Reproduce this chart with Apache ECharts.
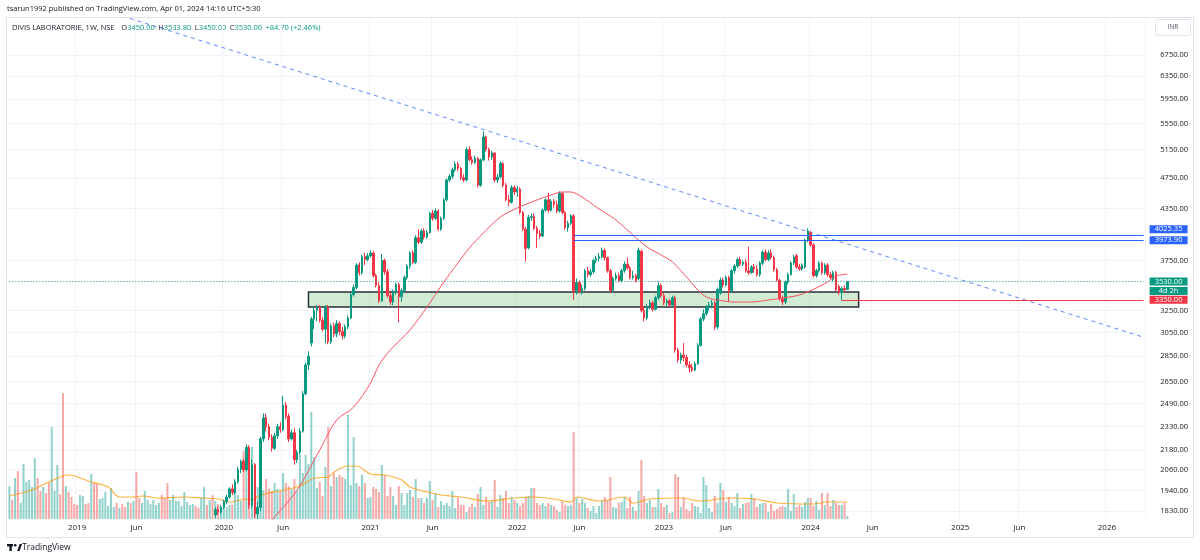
<!DOCTYPE html>
<html>
<head>
<meta charset="utf-8">
<title>DIVIS LABORATORIE, 1W, NSE</title>
<script src="https://cdn.jsdelivr.net/npm/echarts@6.0.0/dist/echarts.min.js"></script>
<style>
  html, body { margin: 0; padding: 0; background: #fff; }
  #chart { width: 1200px; height: 560px; }
</style>
</head>
<body>
<div id="chart"></div>
<script>
// weekly bars, first one is the week of 2018-07-23, axis runs on into 2026
var firstWeek = '2018-07-23'
var weekCount = 403
// candles before this week sit below the visible price range
var firstCandle = 73

// [open, close, low, high] from the week of 2019-12-16 to 2024-04-01
var ohlc = [
  [1811,1837,1795,1850],[1837,1825,1810,1855],[1825,1850,1815,1862],[1850,1880,1840,1890],[1880,1905,1865,1918],
  [1905,1950,1895,1960],[1950,1930,1915,1975],[1930,1990,1920,2005],[1990,2060,1980,2075],[2060,2110,2040,2120],
  [2110,2060,2045,2125],[2060,2195,2050,2215],[2195,1860,1840,2210],[1860,2090,1845,2120],[2090,1815,1795,2100],
  [1815,1850,1790,1880],[1850,2250,1830,2265],[2250,2390,2230,2420],[2390,2330,2300,2420],[2330,2260,2240,2350],
  [2260,2190,2170,2280],[2190,2270,2180,2290],[2270,2330,2250,2350],[2330,2310,2290,2360],[2310,2480,2300,2545],
  [2480,2400,2380,2500],[2400,2250,2230,2420],[2250,2290,2240,2310],[2290,2120,2090,2320],[2120,2165,2100,2180],
  [2165,2300,2150,2320],[2300,2560,2290,2580],[2560,2780,2550,2800],[2780,2850,2740,2890],[2960,3170,2930,3190],
  [3170,3250,3080,3280],[3250,3270,3150,3300],[3270,3160,3140,3300],[3160,3080,3060,3190],[3080,3280,2960,3300],
  [3280,2970,2950,3300],[2970,3110,2950,3130],[3110,3040,3010,3140],[3040,3130,3010,3160],[3130,3060,3030,3150],
  [3060,3020,2990,3100],[3020,3100,3000,3120],[3100,3180,3080,3200],[3180,3400,3170,3420],[3400,3470,3380,3500],
  [3470,3700,3450,3720],[3700,3620,3590,3730],[3620,3790,3600,3810],[3790,3760,3700,3830],[3760,3800,3740,3830],
  [3800,3830,3780,3860],[3830,3590,3570,3850],[3590,3490,3470,3610],[3490,3340,3320,3520],[3340,3750,3330,3820],
  [3750,3630,3600,3770],[3630,3390,3370,3660],[3390,3330,3300,3430],[3330,3420,3300,3450],[3420,3500,3400,3520],
  [3500,3380,3140,3520],[3380,3440,3330,3460],[3440,3570,3420,3590],[3570,3690,3550,3710],[3690,3830,3660,3850],
  [3830,3730,3710,3860],[3730,4000,3710,4030],[4000,3950,3930,4100],[3950,4080,3930,4100],[4080,4010,3980,4110],
  [4010,4060,3990,4090],[4060,4290,4050,4310],[4290,4230,4200,4330],[4230,4320,4210,4350],[4320,4100,4080,4340],
  [4100,4230,4080,4250],[4230,4460,4210,4480],[4460,4720,4440,4740],[4720,4770,4690,4800],[4770,4860,4740,4890],
  [4860,4940,4830,4980],[4940,4880,4840,4970],[4880,4750,4720,4900],[4750,4720,4690,4800],[4720,5150,4700,5180],
  [5150,5000,4980,5200],[5000,4960,4930,5050],[4960,5020,4940,5060],[5020,4650,4620,5040],[4650,5000,4630,5020],
  [5000,5340,4980,5425],[5340,5150,5120,5360],[5150,5040,4990,5180],[5040,5100,5000,5130],[5100,4720,4690,5110],
  [4720,4760,4680,4800],[4760,4950,4740,4980],[4950,4650,4620,4970],[4650,4460,4440,4680],[4460,4430,4380,4520],
  [4430,4620,4410,4650],[4620,4560,4520,4650],[4560,4600,4500,4640],[4600,4300,4280,4620],[4300,4100,4080,4320],
  [4100,3880,3740,4130],[3890,4240,3870,4270],[4240,4250,4200,4290],[4250,4110,4090,4290],[4110,4050,3885,4140],
  [4050,4020,3990,4090],[4020,4330,4010,4350],[4330,4460,4310,4480],[4460,4330,4300,4550],[4330,4440,4310,4470],
  [4440,4400,4360,4470],[4400,4320,4290,4450],[4320,4540,4300,4570],[4540,4300,4280,4560],[4300,4120,4090,4320],
  [4120,4170,4070,4200],[4170,4260,4150,4280],[4260,3440,3350,4280],[3440,3520,3400,3560],[3520,3430,3410,3540],
  [3430,3460,3400,3500],[3460,3640,3440,3660],[3640,3600,3570,3680],[3600,3630,3580,3660],[3630,3750,3610,3770],
  [3750,3770,3720,3800],[3770,3790,3740,3830],[3790,3860,3770,3890],[3860,3780,3750,3880],[3780,3640,3620,3790],
  [3640,3440,3420,3660],[3440,3560,3420,3580],[3560,3590,3540,3620],[3590,3540,3520,3620],[3540,3640,3520,3660],
  [3640,3710,3620,3740],[3710,3670,3650,3780],[3670,3570,3550,3690],[3570,3590,3550,3640],[3590,3540,3520,3610],
  [3560,3860,3540,3890],[3850,3250,3230,3870],[3250,3180,3150,3290],[3180,3280,3160,3310],[3280,3320,3260,3350],
  [3320,3260,3240,3340],[3260,3370,3250,3390],[3370,3490,3350,3530],[3490,3390,3370,3510],[3390,3320,3300,3420],
  [3320,3340,3290,3360],[3340,3300,3280,3360],[3300,3370,3280,3390],[3370,2900,2880,3390],[2900,2820,2800,2920],
  [2820,2860,2790,2880],[2860,2840,2810,2960],[2840,2780,2760,2860],[2780,2760,2720,2810],[2760,2740,2725,2790],
  [2740,2790,2730,2810],[2790,2940,2780,2960],[2940,3170,2930,3190],[3170,3220,3150,3260],[3220,3280,3200,3300],
  [3280,3300,3250,3330],[3300,3320,3270,3350],[3320,3100,3070,3340],[3100,3450,3080,3470],[3415,3545,3400,3570],
  [3545,3495,3470,3570],[3495,3570,3480,3590],[3570,3440,3330,3590],[3440,3640,3420,3660],[3640,3690,3610,3710],
  [3690,3760,3670,3780],[3760,3710,3690,3790],[3710,3730,3690,3750],[3730,3640,3620,3760],[3640,3620,3600,3900],
  [3620,3680,3610,3700],[3680,3660,3620,3710],[3660,3600,3580,3700],[3600,3720,3580,3740],[3720,3840,3700,3860],
  [3840,3760,3740,3870],[3760,3830,3740,3860],[3830,3780,3760,3870],[3780,3650,3630,3800],[3650,3545,3530,3670],
  [3545,3360,3340,3560],[3360,3330,3300,3390],[3330,3525,3310,3540],[3525,3600,3500,3620],[3600,3722,3590,3740],
  [3722,3787,3700,3810],[3800,3680,3660,3820],[3680,3660,3640,3710],[3660,3700,3640,3720],[3680,3975,3660,3990],
  [3975,4080,3950,4110],[4060,3920,3900,4080],[3920,3590,3570,3940],[3590,3640,3570,3660],[3640,3720,3620,3740],
  [3720,3620,3600,3740],[3620,3700,3600,3720],[3700,3600,3580,3720],[3600,3570,3550,3630],[3550,3620,3530,3640],
  [3620,3445,3430,3640],[3480,3420,3400,3500],[3420,3460,3350,3480],[3460,3445.3,3420,3490],[3450,3530,3450,3533.8]
]

// weekly volume, lakh shares, from the week of 2018-07-23
var volumes = [
  16.5,9.5,20.5,24,8,27.5,18.5,19.5,16,30.5, 20.5,14,16,13,18,46,14,27,12.5,63,
  16.5,13.5,11,7.5,7,12,11.5,7.5,8,22.5, 18,18,10,10.5,13.5,6.5,15.5,6,8,5.5,
  7.5,6,8.5,8,9,23.5,10.5,8,14,9.5, 7.5,9.5,7,8,12,10.5,18,9.5,12,9,
  9,6.5,13.5,8.5,7,7.5,6.5,5.5,11,16, 7,9.5,12,9,7.5,5.5,6,6,7,7,
  16,12,9,34,25,30.5,36,24.5,16,17, 14.5,20,15,14,18,15,14,23,18,16.5,
  15,20,14,32,23,32,27.5,53.5,31,15.5, 18.5,11.5,26,46,16.5,23,21,22,21,20,
  52,17,41,18,16.5,22,18,10.5,11,16, 15,13.5,27,22,11.5,16,11.5,7,16.5,13,
  7,13,14.5,11,20,10.5,10.5,8,10.5,19, 9.5,13,6,9,7,8,6.5,14,5.5,10.5,
  7,7,3.5,6,7.5,6,12.5,16,7,11, 8.5,9,19.5,6,12,10.5,14,8,11,9.5,
  8,6.5,8,11,11.5,15.5,15.5,8,7,8, 6.5,8,7,6.5,4.5,3.5,8.5,7,6.5,7,
  43.5,10.5,8,10,8,5.5,4,6.5,3,6.5, 9.5,11,9.5,21,6,5.5,8,8.5,11,5.5,
  11,6,4,14,29.5,11.5,8,9.5,6,6, 15,8,6,7,3,3.5,22.5,21,6,11,
  5,4,8,6.5,6,3,21,17,5.5,3.5, 11.5,8,18,14.5,8.5,11,8,6.5,13,5.5,
  7.5,8,8.5,12.5,10.5,6,7.5,8,8,3.5, 7.5,4,5,6,6.5,6,15,4,12.5,6,
  7,6,8.5,10.5,10.5,6.5,9,4.5,13,7, 13,6.5,9.5,8,7,7,8,1.5
]
// up / down weeks before the first visible candle
var earlyDir = 'ududuuuuuuddudduuuddudddduuddudduuuuuududdududduuuuuuuddduuuuuuuuudduudu'

// 50 week average of close [week, price]
var priceMA = [
  [92,1760],[94,1799],[102,1943],[110,2180],[116,2375],[122,2464],[128,2640],[131,2780],[135,2902],
  [142,3073],[148,3281],[154,3525],[159,3722],[163,3885],[168,4056],[174,4246],[180,4357],[186,4444],
  [192,4522],[196,4561],[199,4561],[203,4496],[208,4369],[215,4209],[221,4032],[226,3896],[231,3808],
  [235,3733],[240,3576],[244,3445],[247,3377],[251,3348],[257,3329],[263,3329],[269,3348],[274,3367],
  [280,3396],[286,3465],[290,3525],[293,3586],[297,3606]
]
// volume average [week, lakh shares]
var volumeMA = [
  [0,11.5],[8,14.5],[14,18.5],[19,21.5],[21,22],[29,18.5],[35,16],[39,11],[44,11],[47,11.5],[53,10.5],
  [62,11],[68,10.5],[74,10],[78,8.5],[84,10],[86,9.5],[89,12],[97,14.5],[103,16.5],[108,20.5],[113,21],
  [115,23.5],[120,26.5],[123,26.5],[128,22.5],[133,22],[139,19.5],[142,16],[148,13.5],[153,12],[160,11],
  [169,9],[179,10.5],[186,11],[193,10],[199,8.5],[201,11],[209,9],[218,11],[221,8],[227,10],[238,10.5],
  [245,9],[255,10.5],[264,10],[272,8],[285,7.5],[290,8.5],[297,8.5]
]

// drawings
var trendLine = [[40, 7547], [402, 3010]]
var zone = [[106, 3425], [301, 3282]]
var resistance = [4025.35, 3973.90]
var resistanceFrom = 200
var support = 3350
var supportFrom = 295
var lastWeek = 402

var priceTicks = [1830, 1940, 2060, 2180, 2330, 2490, 2650, 2850, 3050, 3250, 3750, 4350, 4750, 5150, 5550, 5950, 6350, 6750]

var UP = '#089981'
var DOWN = '#f23645'
var FONT = 'Open Sans'

var weeks = []
var d = new Date(firstWeek + 'T00:00:00Z')
for (var i = 0; i < weekCount; i++) {
  weeks.push(d.toISOString().slice(0, 10))
  d = new Date(d.getTime() + 7 * 86400000)
}

function yearStart(i) {
  return i > 0 && weeks[i].slice(0, 4) !== weeks[i - 1].slice(0, 4)
}
function juneStart(i) {
  return i > 0 && weeks[i].slice(5, 7) === '06' && weeks[i - 1].slice(5, 7) !== '06'
}
function isMark(i) {
  return yearStart(i) || juneStart(i)
}

var candleData = weeks.map(function(w, i) {
  var k = i - firstCandle
  return k >= 0 && k < ohlc.length ? ohlc[k] : '-'
})

var volumeData = volumes.map(function(v, i) {
  var k = i - firstCandle
  var up = k >= 0 ? ohlc[k][1] >= ohlc[k][0] : earlyDir[i] === 'u'
  return { value: v, itemStyle: { color: up ? 'rgba(38,166,154,0.5)' : 'rgba(239,83,80,0.5)' } }
})

var last = ohlc[ohlc.length - 1]
var prevClose = ohlc[ohlc.length - 2][1]
var change = last[1] - prevClose
var changePct = change / prevClose * 100
var lastPrice = last[1]

function tag(bg, padding, rows) {
  var rich = {}
  var parts = []
  rows.forEach(function(r, n) {
    rich['r' + n] = {
      backgroundColor: bg, color: '#fff', fontFamily: FONT, fontSize: 7.5,
      width: 38, align: 'center', lineHeight: r[1]
    }
    parts.push('{r' + n + '|' + r[0] + '}')
  })
  return {
    show: true, position: 'end', distance: 6, padding: padding,
    formatter: parts.join('\n'), rich: rich
  }
}

var chart = echarts.init(document.getElementById('chart'))

chart.setOption({
  animation: false,
  backgroundColor: '#ffffff',
  grid: [
    { left: 8, right: 55, top: 18, bottom: 41, outerBoundsMode: 'none' },
    { left: 8, right: 55, top: 379, bottom: 41, outerBoundsMode: 'none' }
  ],
  xAxis: [
    {
      type: 'category', gridIndex: 0, data: weeks,
      axisLine: { show: false }, axisTick: { show: false },
      axisLabel: {
        interval: function(i) { return isMark(i) },
        formatter: function(v, i) { return yearStart(i) ? v.slice(0, 4) : 'Jun' },
        color: '#131722', fontFamily: FONT, fontSize: 8, margin: 5
      },
      splitLine: {
        show: true, interval: function(i) { return isMark(i) },
        lineStyle: { color: '#f0f3fa', width: 1 }
      }
    },
    {
      type: 'category', gridIndex: 1, data: weeks, show: false
    }
  ],
  yAxis: [
    {
      type: 'log', gridIndex: 0, position: 'right', min: 1789, max: 7504, logBase: 10,
      axisLine: { show: false },
      axisTick: { show: false, customValues: priceTicks },
      axisLabel: {
        customValues: priceTicks,
        formatter: function(v) { return Number(v).toFixed(2) },
        color: '#131722', fontFamily: FONT, fontSize: 7.5, align: 'right', margin: 43
      },
      splitLine: { show: true, lineStyle: { color: '#f0f3fa', width: 1 } }
    },
    {
      type: 'value', gridIndex: 1, min: 0, max: 70, show: false,
      splitLine: { show: false }
    }
  ],
  series: [
    {
      name: 'Volume', type: 'bar', xAxisIndex: 1, yAxisIndex: 1,
      data: volumeData, barWidth: '72%', z: 1, silent: true
    },
    {
      name: 'Volume MA', type: 'line', xAxisIndex: 1, yAxisIndex: 1,
      data: volumeMA, symbol: 'none', smooth: 0.3, z: 2, silent: true,
      lineStyle: { color: 'rgba(255,152,0,0.75)', width: 1.2 }
    },
    {
      name: 'Trend', type: 'line', xAxisIndex: 0, yAxisIndex: 0,
      data: trendLine, symbol: 'none', z: 2, silent: true,
      lineStyle: { color: '#5d87f7', width: 1, type: [4, 4] },
      markArea: {
        silent: true,
        itemStyle: { color: 'rgba(76,175,80,0.25)', borderColor: '#2a2e39', borderWidth: 1.5 },
        data: [[{ coord: zone[0] }, { coord: zone[1] }]]
      }
    },
    {
      name: 'DIVIS LABORATORIE', type: 'candlestick', xAxisIndex: 0, yAxisIndex: 0,
      data: candleData, barWidth: '70%', z: 3, silent: true,
      itemStyle: { color: UP, color0: DOWN, borderColor: UP, borderColor0: DOWN, borderWidth: 1 },
      markLine: {
        silent: true, symbol: 'none', animation: false,
        data: [
          [
            { coord: [0, lastPrice], lineStyle: { color: UP, width: 1, type: [1, 2] },
              label: tag(UP, [9, 0, 0, 0], [[lastPrice.toFixed(2), 10], ['4d 2h', 9]]) },
            { coord: [lastWeek, lastPrice] }
          ],
          [
            { coord: [resistanceFrom, resistance[0]], lineStyle: { color: '#2962ff', width: 1.2, type: 'solid' },
              label: tag('#2962ff', [0, 0, 13, 0], [[resistance[0].toFixed(2), 11]]) },
            { coord: [lastWeek, resistance[0]] }
          ],
          [
            { coord: [resistanceFrom, resistance[1]], lineStyle: { color: '#2962ff', width: 1.2, type: 'solid' },
              label: tag('#2962ff', [0, 0, 0, 0], [[resistance[1].toFixed(2), 11]]) },
            { coord: [lastWeek, resistance[1]] }
          ],
          [
            { coord: [supportFrom, support], lineStyle: { color: DOWN, width: 1, type: 'solid' },
              label: tag(DOWN, [0, 0, 0, 0], [[support.toFixed(2), 11]]) },
            { coord: [lastWeek, support] }
          ]
        ]
      }
    },
    {
      name: 'MA 50', type: 'line', xAxisIndex: 0, yAxisIndex: 0,
      data: priceMA, symbol: 'none', smooth: 0.3, z: 4, silent: true,
      lineStyle: { color: '#f7525f', width: 1 }
    }
  ],
  graphic: [
    {
      type: 'rect', silent: true, z: 0,
      shape: { x: 6.5, y: 17.5, width: 1187, height: 520 },
      style: { fill: null, stroke: '#e0e3eb', lineWidth: 1 }
    },
    {
      type: 'text', left: 7, top: 5, silent: true,
      style: { text: 'tsarun1992 published on TradingView.com, Apr 01, 2024 14:16 UTC+5:30', fill: '#131722', font: '7.5px "Open Sans"' }
    },
    {
      type: 'text', left: 12, top: 22, silent: true,
      style: {
        text: '{n|DIVIS LABORATORIE, 1W, NSE}  {k|O}{v|' + last[0].toFixed(2) + '} {k|H}{v|' + last[3].toFixed(2) +
          '} {k|L}{v|' + last[2].toFixed(2) + '} {k|C}{v|' + last[1].toFixed(2) + '} {v|' +
          (change >= 0 ? '+' : '') + change.toFixed(2) + ' (' + (change >= 0 ? '+' : '') + changePct.toFixed(2) + '%)}',
        rich: {
          n: { fill: '#131722', fontFamily: FONT, fontSize: 7.5 },
          k: { fill: '#131722', fontFamily: FONT, fontSize: 7.5 },
          v: { fill: UP, fontFamily: FONT, fontSize: 7.5 }
        }
      }
    },
    {
      type: 'rect', silent: true,
      shape: { x: 1155.5, y: 19.5, width: 35, height: 16, r: 2 },
      style: { fill: '#fff', stroke: '#e0e3eb', lineWidth: 1 }
    },
    {
      type: 'text', silent: true, x: 1173, y: 27.5,
      style: { text: 'INR', fill: '#50535e', font: '6.5px "Open Sans"', align: 'center', verticalAlign: 'middle' }
    },
    {
      type: 'group', silent: true, left: 7, top: 544,
      children: [
        { type: 'rect', shape: { x: 0, y: 0, width: 6, height: 2.4 }, style: { fill: '#131722' } },
        { type: 'rect', shape: { x: 2.4, y: 0, width: 2.4, height: 7 }, style: { fill: '#131722' } },
        { type: 'circle', shape: { cx: 8.2, cy: 1.3, r: 1.3 }, style: { fill: '#131722' } },
        { type: 'polygon', shape: { points: [[10.2, 7], [12.6, 0], [15, 0], [12.6, 7]] }, style: { fill: '#131722' } }
      ]
    },
    {
      type: 'text', left: 22, top: 543, silent: true,
      style: { text: 'TradingView', fill: '#131722', font: '8.5px "Open Sans"' }
    }
  ]
})
</script>
</body>
</html>
